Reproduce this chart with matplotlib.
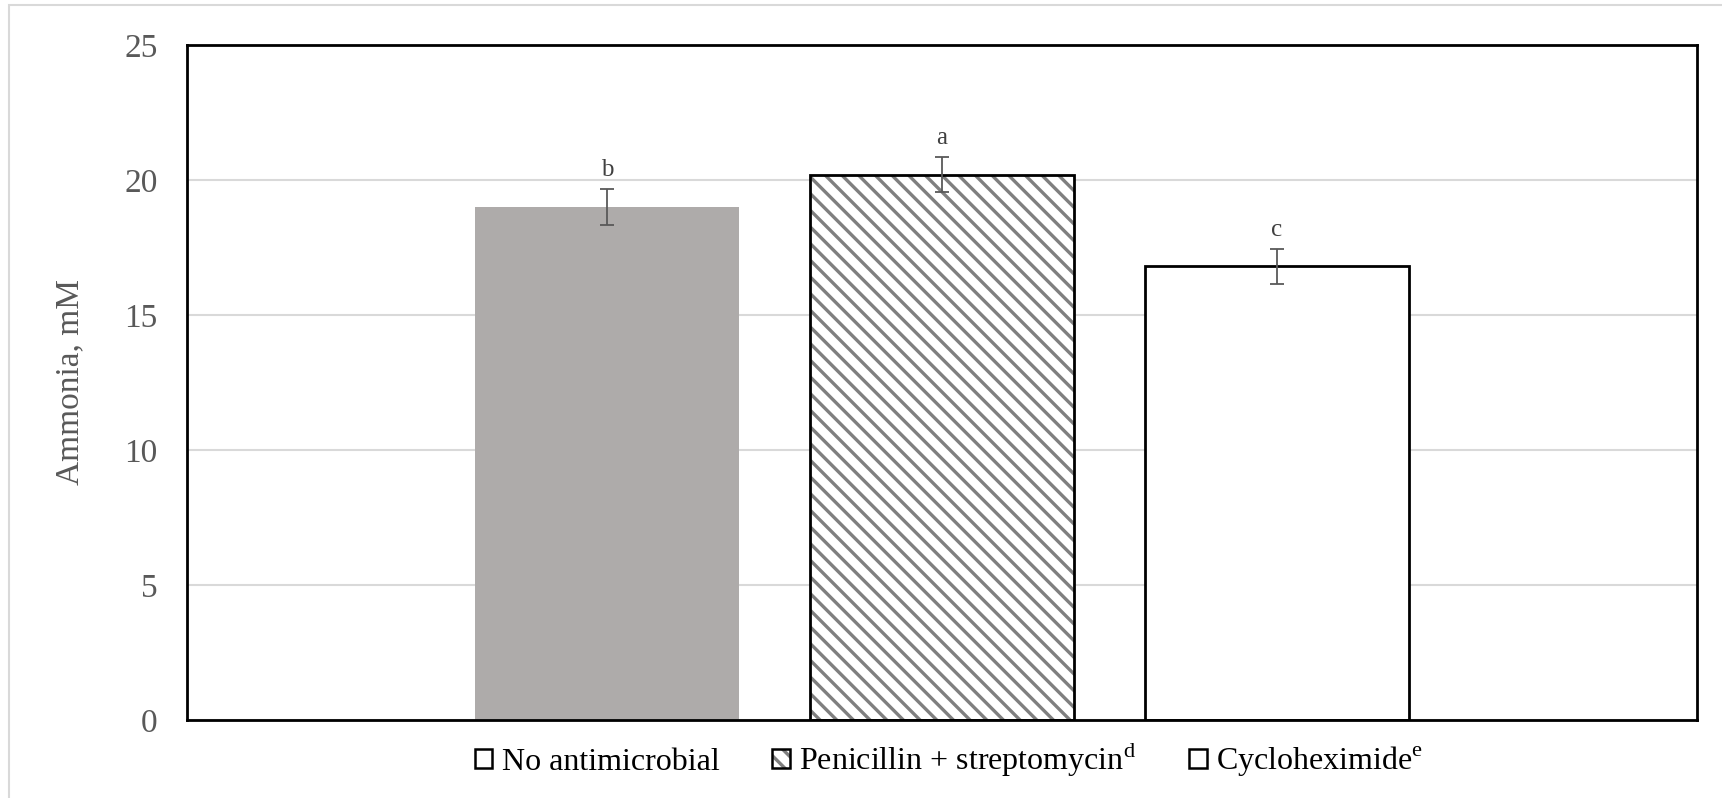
import matplotlib.pyplot as plt
from matplotlib.patches import Patch, Rectangle
from matplotlib.legend_handler import HandlerTuple

plt.rcParams['font.family'] = ['Liberation Serif', 'DejaVu Serif']
plt.rcParams['hatch.linewidth'] = 2.4

labels = ['No antimicrobial', 'Penicillin + streptomycin$^{\\mathregular{d}}$', 'Cycloheximide$^{\\mathregular{e}}$']
values = [19.0, 20.2, 16.8]
errors = [0.65, 0.65, 0.65]
letters = ['b', 'a', 'c']

fig = plt.figure(figsize=(17.22, 7.98), dpi=100)
ax = fig.add_axes([187 / 1722, 1 - 720 / 798, (1697 - 187) / 1722, (720 - 45) / 798])

# light outer frame like the exported chart area
fig.add_artist(Rectangle((9 / 1722, -0.1), 1.2, 1 - 5 / 798 + 0.1, transform=fig.transFigure,
                         fill=False, edgecolor='#d9d9d9', linewidth=1.5))

x = [0, 1, 2]
w = 0.79
ax.bar(x[0], values[0], w, color='#aeabaa', linewidth=0, zorder=2)
ax.bar(x[1], values[1], w, color='white', edgecolor='#7f7f7f', hatch='\\\\', linewidth=0, zorder=2)
ax.bar(x[1], values[1], w, fill=False, edgecolor='black', linewidth=2, zorder=3)
ax.bar(x[2], values[2], w, color='white', edgecolor='black', linewidth=2, zorder=2)

ax.errorbar(x, values, yerr=errors, fmt='none', ecolor='#595959', elinewidth=1.3,
            capsize=5, capthick=1.3, zorder=4)
for xi, v, e, t in zip(x, values, errors, letters):
    ax.text(xi, v + e + 0.3, t, ha='center', va='bottom', fontsize=18, color='#404040')

ax.set_xlim(-1.254, 3.254)
ax.set_ylim(0, 25)
ax.set_yticks([0, 5, 10, 15, 20, 25])
ax.set_xticks([])
ax.yaxis.grid(True, color='#d9d9d9', linewidth=1.5, zorder=0)
ax.set_axisbelow(True)
for s in ax.spines.values():
    s.set_linewidth(2)
    s.set_color('black')
ax.tick_params(axis='y', length=0, pad=21, labelsize=24, labelcolor='#595959')
ax.set_ylabel('Ammonia, mM', fontsize=24, color='#595959', labelpad=28)

h1 = Patch(facecolor='white', edgecolor='black', linewidth=1.8)
h2a = Patch(facecolor='white', edgecolor='#7f7f7f', hatch='\\\\', linewidth=0)
h2b = Patch(fill=False, edgecolor='black', linewidth=1.8)
h3 = Patch(facecolor='white', edgecolor='black', linewidth=1.8)
fig.legend([h1, (h2a, h2b), h3], labels, loc='center', bbox_to_anchor=(949 / 1722, 1 - 759 / 798),
           ncol=3, frameon=False, fontsize=23, handlelength=0.55, handleheight=0.55,
           handletextpad=0.3, columnspacing=1.65,
           handler_map={tuple: HandlerTuple(ndivide=1, pad=0)})

fig.savefig('out.png', dpi=100)
